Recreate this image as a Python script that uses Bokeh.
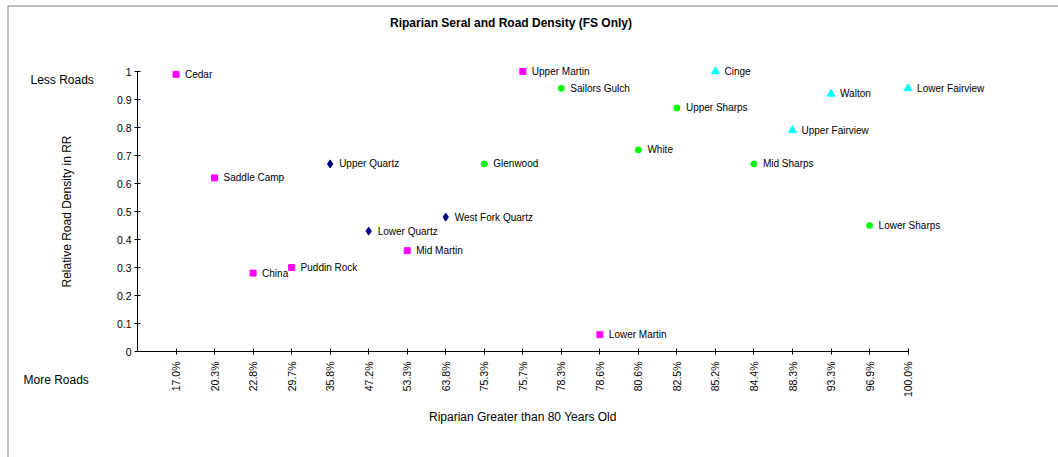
from bokeh.plotting import figure
from bokeh.models import Range1d, FixedTicker, CustomJSTickFormatter, ColumnDataSource
from bokeh.core.properties import value
from bokeh.embed import file_html
from bokeh.resources import INLINE
import math

title = "Riparian Seral and Road Density (FS Only)"
x_title = "Riparian Greater than 80 Years Old"
y_title = "Relative Road Density in RR"
top_note = "Less Roads"
bottom_note = "More Roads"

x_labels = ["17.0%", "20.3%", "22.8%", "29.7%", "35.8%", "47.2%", "53.3%", "63.8%",
            "75.3%", "75.7%", "78.3%", "78.6%", "80.6%", "82.5%", "85.2%", "84.4%",
            "88.3%", "93.3%", "96.9%", "100.0%"]
y_ticks = [0, 0.1, 0.2, 0.3, 0.4, 0.5, 0.6, 0.7, 0.8, 0.9, 1]

# magenta squares
sq_names = ["Cedar", "Saddle Camp", "China", "Puddin Rock", "Mid Martin", "Upper Martin", "Lower Martin"]
sq_cats = ["17.0%", "20.3%", "22.8%", "29.7%", "53.3%", "75.7%", "78.6%"]
sq_vals = [0.99, 0.62, 0.28, 0.30, 0.36, 1.00, 0.06]

# navy diamonds
dm_names = ["Upper Quartz", "Lower Quartz", "West Fork Quartz"]
dm_cats = ["35.8%", "47.2%", "63.8%"]
dm_vals = [0.67, 0.43, 0.48]

# green circles
ci_names = ["Glenwood", "Sailors Gulch", "White", "Upper Sharps", "Mid Sharps", "Lower Sharps"]
ci_cats = ["75.3%", "78.3%", "80.6%", "82.5%", "84.4%", "96.9%"]
ci_vals = [0.67, 0.94, 0.72, 0.87, 0.67, 0.45]

# cyan triangles
tr_names = ["Cinge", "Upper Fairview", "Walton", "Lower Fairview"]
tr_cats = ["85.2%", "88.3%", "93.3%", "100.0%"]
tr_vals = [1.00, 0.79, 0.92, 0.94]

FONT = "Liberation Sans"

# canvas geometry (pixels)
W, H = 1058, 457
AXIS_X0 = 137.0      # pixel column of the y axis
AXIS_Y0 = 351.0      # pixel row of the x axis
PX_PER_CAT = 38.53   # pixels per category step
PX_PER_UNIT = 280.0  # pixels per 1.0 on y


def px2x(px):
    return (px - AXIS_X0) / PX_PER_CAT


def px2y(py):
    return (AXIS_Y0 - py) / PX_PER_UNIT


p = figure(frame_width=W, frame_height=H, min_border=0,
           x_range=Range1d(px2x(0), px2x(W)), y_range=Range1d(px2y(H), px2y(0)),
           output_backend="svg", toolbar_location=None)
p.outline_line_color = None
p.grid.visible = False
p.background_fill_color = "white"
p.border_fill_color = "white"

xa = p.xaxis[0]
xa.fixed_location = 0
xa.bounds = (0, len(x_labels))
xa.ticker = FixedTicker(ticks=list(range(1, len(x_labels) + 1)))
xa.major_label_overrides = {i + 1: lab for i, lab in enumerate(x_labels)}
xa.major_label_orientation = math.pi / 2
xa.major_label_standoff = 7

ya = p.yaxis[0]
ya.fixed_location = 0
ya.bounds = (0, 1)
ya.ticker = FixedTicker(ticks=y_ticks)
ya.formatter = CustomJSTickFormatter(code="return String(Math.round(tick*10)/10)")
ya.major_label_standoff = 3

for ax in (xa, ya):
    ax.minor_tick_line_color = None
    ax.major_tick_in = 3
    ax.major_tick_out = 3
    ax.axis_line_color = "black"
    ax.major_tick_line_color = "black"
    ax.major_label_text_font = FONT
    ax.major_label_text_font_size = "10.5px"
    ax.major_label_text_color = "black"

# chart-area frame (top and left edges visible)
p.line(x=[px2x(7.5), px2x(7.5), px2x(W + 20)], y=[px2y(H + 20), px2y(5.5), px2y(5.5)],
       line_color="#808080", line_width=1)


def idx(cats):
    return [x_labels.index(c) + 1 for c in cats]


series = [
    (sq_names, sq_cats, sq_vals, "square", "#FF00FF", 6),
    (dm_names, dm_cats, dm_vals, "diamond", "#000080", 8),
    (ci_names, ci_cats, ci_vals, "circle", "#00FF00", 6),
    (tr_names, tr_cats, tr_vals, "triangle", "#00FFFF", 8),
]
for names, cats, vals, marker, color, size in series:
    src = ColumnDataSource(dict(x=idx(cats), y=vals, name=names))
    p.scatter("x", "y", source=src, marker=marker, size=size, fill_color=color, line_color=color)
    p.text("x", "y", text="name", source=src, x_offset=9, text_baseline="middle",
           text_align="left", text_font=value(FONT), text_font_size="10px", text_color="black")

# titles and notes
p.text(x=[px2x(510.5)], y=[px2y(22)], text=[title], text_align="center", text_baseline="middle",
       text_font=value(FONT), text_font_size="12px", text_font_style="bold", text_color="black")
p.text(x=[len(x_labels) / 2], y=[px2y(416)], text=[x_title], text_align="center",
       text_baseline="middle", text_font=value(FONT), text_font_size="12px", text_color="black")
p.text(x=[px2x(66)], y=[0.5], text=[y_title], angle=math.pi / 2, text_align="center",
       text_baseline="middle", text_font=value(FONT), text_font_size="12px", text_color="black")
p.text(x=[px2x(30)], y=[px2y(79)], text=[top_note], text_align="left", text_baseline="middle",
       text_font=value(FONT), text_font_size="12px", text_color="black")
p.text(x=[px2x(23)], y=[px2y(379)], text=[bottom_note], text_align="left", text_baseline="middle",
       text_font=value(FONT), text_font_size="12px", text_color="black")

open("out.html", "w").write(file_html(p, INLINE))
